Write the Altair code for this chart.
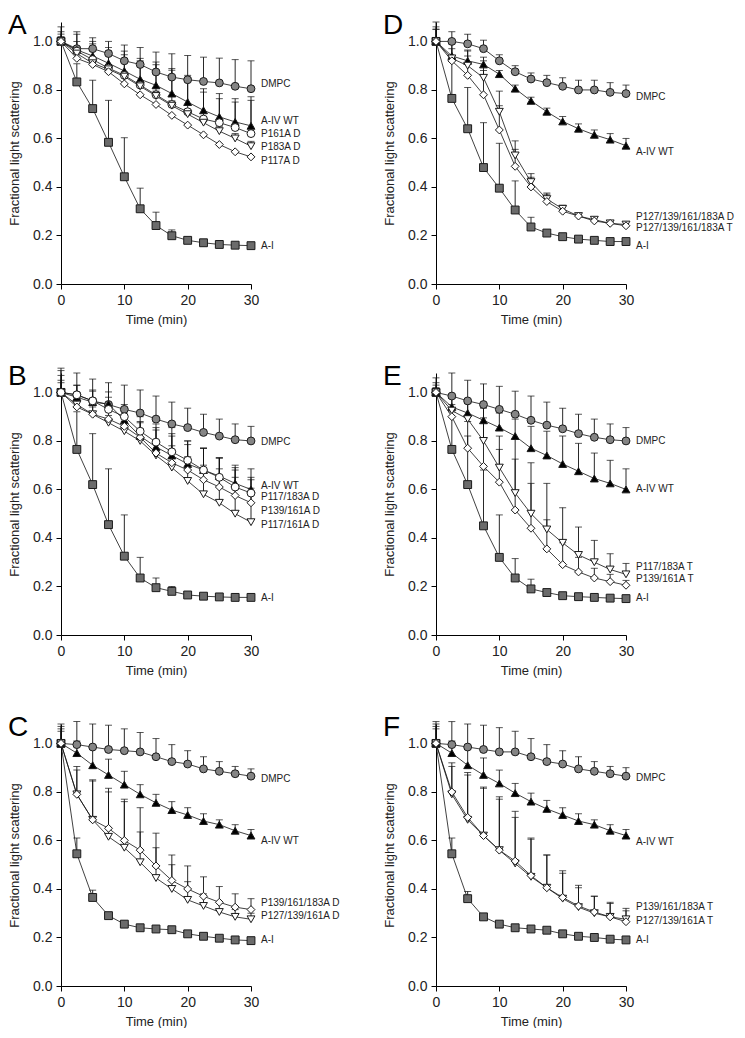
import altair as alt
import pandas as pd

TIME = [0, 2.5, 5, 7.5, 10, 12.5, 15, 17.5, 20, 22.5, 25, 27.5, 30]

# ---------------- Panel A ----------------
A_DMPC = [1.0, 0.97, 0.97, 0.95, 0.92, 0.905, 0.874, 0.853, 0.842, 0.835, 0.829, 0.815, 0.805]
A_DMPC_E = [0.06, 0.07, 0.045, 0.05, 0.065, 0.07, 0.082, 0.096, 0.1, 0.1, 0.102, 0.11, 0.115]
A_WT = [1.0, 0.965, 0.94, 0.91, 0.878, 0.844, 0.819, 0.785, 0.75, 0.716, 0.689, 0.668, 0.652]
A_WT_E = [0.04, 0.065, 0.06, 0.065, 0.082, 0.086, 0.096, 0.103, 0.11, 0.089, 0.096, 0.096, 0.12]
A_P161 = [1.0, 0.96, 0.925, 0.89, 0.86, 0.82, 0.78, 0.74, 0.71, 0.68, 0.665, 0.645, 0.62]
A_P161_E = [0.03, 0.04, 0.065, 0.07, 0.085, 0.1, 0.124, 0.141, 0.14, 0.111, 0.099, 0.105, 0.137]
A_P183 = [1.0, 0.95, 0.91, 0.885, 0.855, 0.815, 0.775, 0.735, 0.7, 0.665, 0.63, 0.6, 0.568]
A_P183_E = [0.02, 0.02, 0.02, 0.02, 0.02, 0.02, 0.02, 0.02, 0.02, 0.02, 0.02, 0.02, 0.02]
A_P117 = [1.0, 0.93, 0.905, 0.875, 0.825, 0.78, 0.74, 0.695, 0.655, 0.615, 0.575, 0.545, 0.524]
A_P117_E = [0.01, 0.01, 0.01, 0.01, 0.01, 0.01, 0.01, 0.01, 0.01, 0.01, 0.01, 0.01, 0.01]
A_AI = [1.0, 0.833, 0.723, 0.584, 0.442, 0.31, 0.241, 0.199, 0.18, 0.17, 0.163, 0.16, 0.158]
A_AI_E = [0.0, 0.075, 0.117, 0.173, 0.161, 0.085, 0.055, 0.024, 0.01, 0.008, 0.006, 0.005, 0.005]
A_LABELS = ["DMPC", "A-IV WT", "P161A D", "P183A D", "P117A D", "A-I"]
A_LABEL_Y = [0.823, 0.672, 0.62, 0.563, 0.507, 0.155]

# ---------------- Panel B ----------------
B_DMPC = [1.0, 0.99, 0.965, 0.95, 0.93, 0.915, 0.89, 0.87, 0.855, 0.835, 0.82, 0.805, 0.80]
B_DMPC_E = [0.09, 0.09, 0.09, 0.09, 0.1, 0.095, 0.095, 0.09, 0.08, 0.075, 0.07, 0.065, 0.06]
B_WT = [1.0, 0.98, 0.96, 0.952, 0.885, 0.82, 0.775, 0.74, 0.705, 0.68, 0.655, 0.625, 0.6]
B_WT_E = [0.1, 0.05, 0.05, 0.05, 0.05, 0.06, 0.07, 0.09, 0.08, 0.09, 0.075, 0.075, 0.085]
B_P117_183 = [1.0, 0.99, 0.965, 0.93, 0.9, 0.84, 0.795, 0.755, 0.72, 0.68, 0.65, 0.61, 0.585]
B_P117_183_E = [0.07, 0.04, 0.04, 0.05, 0.05, 0.06, 0.075, 0.1, 0.08, 0.09, 0.08, 0.08, 0.065]
B_P139_161 = [1.0, 0.94, 0.91, 0.89, 0.86, 0.815, 0.75, 0.71, 0.68, 0.64, 0.61, 0.575, 0.545]
B_P139_161_E = [0.05, 0.03, 0.04, 0.05, 0.05, 0.06, 0.105, 0.11, 0.12, 0.13, 0.12, 0.105, 0.095]
B_P117_161 = [1.0, 0.95, 0.91, 0.875, 0.84, 0.8, 0.74, 0.69, 0.635, 0.58, 0.545, 0.5, 0.465]
B_P117_161_E = [0.04, 0.03, 0.03, 0.03, 0.04, 0.05, 0.06, 0.09, 0.1, 0.12, 0.14, 0.15, 0.14]
B_AI = [1.0, 0.765, 0.62, 0.455, 0.325, 0.235, 0.195, 0.18, 0.165, 0.16, 0.157, 0.155, 0.155]
B_AI_E = [0.0, 0.155, 0.21, 0.23, 0.17, 0.085, 0.04, 0.02, 0.01, 0.008, 0.006, 0.005, 0.005]
B_LABELS = ["DMPC", "A-IV WT", "P117/183A D", "P139/161A D", "P117/161A D", "A-I"]
B_LABEL_Y = [0.795, 0.614, 0.569, 0.512, 0.453, 0.151]

# ---------------- Panel C ----------------
C_DMPC = [1.0, 0.995, 0.985, 0.975, 0.97, 0.965, 0.945, 0.925, 0.915, 0.895, 0.885, 0.875, 0.865]
C_DMPC_E = [0.08, 0.095, 0.095, 0.1, 0.09, 0.08, 0.075, 0.07, 0.055, 0.05, 0.04, 0.03, 0.03]
C_WT = [1.0, 0.96, 0.91, 0.87, 0.83, 0.79, 0.755, 0.725, 0.705, 0.68, 0.665, 0.64, 0.62]
C_WT_E = [0.06, 0.05, 0.08, 0.065, 0.055, 0.04, 0.035, 0.035, 0.03, 0.03, 0.02, 0.025, 0.025]
C_P139_161_183 = [1.0, 0.79, 0.685, 0.65, 0.6, 0.56, 0.495, 0.435, 0.4, 0.37, 0.345, 0.325, 0.315]
C_P139_161_183_E = [0.07, 0.115, 0.165, 0.165, 0.17, 0.175, 0.135, 0.105, 0.095, 0.08, 0.065, 0.055, 0.045]
C_P127_139_161 = [1.0, 0.79, 0.685, 0.615, 0.57, 0.51, 0.445, 0.4, 0.355, 0.33, 0.305, 0.285, 0.275]
C_P127_139_161_E = [0.05, 0.1, 0.16, 0.185, 0.19, 0.125, 0.125, 0.1, 0.075, 0.05, 0.04, 0.03, 0.025]
C_AI = [1.0, 0.545, 0.365, 0.29, 0.255, 0.24, 0.235, 0.232, 0.215, 0.205, 0.197, 0.19, 0.187]
C_AI_E = [0.0, 0.065, 0.03, 0.01, 0.01, 0.008, 0.008, 0.008, 0.006, 0.006, 0.005, 0.005, 0.005]
C_LABELS = ["DMPC", "A-IV WT", "P139/161/183A D", "P127/139/161A D", "A-I"]
C_LABEL_Y = [0.855, 0.597, 0.343, 0.288, 0.188]

# ---------------- Panel D ----------------
D_DMPC = [1.0, 1.0, 0.99, 0.97, 0.92, 0.875, 0.845, 0.83, 0.815, 0.8, 0.8, 0.79, 0.785]
D_DMPC_E = [0.05, 0.04, 0.04, 0.035, 0.025, 0.025, 0.025, 0.03, 0.035, 0.04, 0.04, 0.04, 0.035]
D_WT = [1.0, 0.94, 0.92, 0.905, 0.865, 0.805, 0.755, 0.71, 0.67, 0.64, 0.615, 0.595, 0.57]
D_WT_E = [0.06, 0.06, 0.045, 0.03, 0.015, 0.015, 0.015, 0.015, 0.02, 0.02, 0.02, 0.025, 0.03]
D_QUAD_D = [1.0, 0.93, 0.9, 0.85, 0.71, 0.53, 0.42, 0.35, 0.31, 0.28, 0.265, 0.25, 0.245]
D_QUAD_D_E = [0.08, 0.06, 0.06, 0.07, 0.085, 0.06, 0.035, 0.025, 0.015, 0.01, 0.01, 0.01, 0.01]
D_QUAD_T = [1.0, 0.92, 0.86, 0.78, 0.635, 0.485, 0.4, 0.34, 0.3, 0.28, 0.26, 0.25, 0.24]
D_QUAD_T_E = [0.05, 0.05, 0.08, 0.1, 0.1, 0.07, 0.04, 0.03, 0.02, 0.01, 0.01, 0.01, 0.01]
D_AI = [1.0, 0.765, 0.64, 0.48, 0.395, 0.305, 0.235, 0.21, 0.195, 0.185, 0.18, 0.175, 0.175]
D_AI_E = [0.0, 0.16, 0.17, 0.185, 0.185, 0.12, 0.04, 0.01, 0.008, 0.006, 0.005, 0.005, 0.005]
D_LABELS = ["DMPC", "A-IV WT", "P127/139/161/183A D", "P127/139/161/183A T", "A-I"]
D_LABEL_Y = [0.771, 0.545, 0.277, 0.229, 0.156]

# ---------------- Panel E ----------------
E_DMPC = [1.0, 0.985, 0.965, 0.95, 0.93, 0.91, 0.885, 0.865, 0.85, 0.83, 0.815, 0.805, 0.8]
E_DMPC_E = [0.06, 0.095, 0.085, 0.085, 0.095, 0.095, 0.1, 0.095, 0.085, 0.08, 0.075, 0.065, 0.055]
E_WT = [1.0, 0.94, 0.915, 0.885, 0.855, 0.82, 0.77, 0.74, 0.705, 0.675, 0.645, 0.625, 0.6]
E_WT_E = [0.04, 0.04, 0.04, 0.05, 0.06, 0.07, 0.09, 0.1, 0.115, 0.115, 0.105, 0.095, 0.085]
E_P117_183 = [1.0, 0.925, 0.89, 0.8, 0.69, 0.585, 0.5, 0.435, 0.38, 0.33, 0.3, 0.27, 0.25]
E_P117_183_E = [0.03, 0.05, 0.065, 0.14, 0.13, 0.225, 0.21, 0.19, 0.145, 0.115, 0.09, 0.065, 0.045]
E_P139_161 = [1.0, 0.9, 0.77, 0.695, 0.63, 0.515, 0.44, 0.355, 0.29, 0.26, 0.235, 0.22, 0.205]
E_P139_161_E = [0.02, 0.05, 0.11, 0.2, 0.135, 0.21, 0.185, 0.12, 0.09, 0.06, 0.04, 0.03, 0.02]
E_AI = [1.0, 0.765, 0.62, 0.45, 0.32, 0.235, 0.19, 0.175, 0.162, 0.158, 0.155, 0.152, 0.15]
E_AI_E = [0.0, 0.155, 0.2, 0.23, 0.175, 0.08, 0.04, 0.01, 0.008, 0.006, 0.005, 0.005, 0.005]
E_LABELS = ["DMPC", "A-IV WT", "P117/183A T", "P139/161A T", "A-I"]
E_LABEL_Y = [0.8, 0.6, 0.281, 0.229, 0.151]

# ---------------- Panel F ----------------
F_DMPC = [1.0, 0.995, 0.985, 0.975, 0.965, 0.965, 0.945, 0.925, 0.915, 0.895, 0.885, 0.875, 0.865]
F_DMPC_E = [0.08, 0.095, 0.095, 0.1, 0.1, 0.085, 0.075, 0.07, 0.055, 0.05, 0.04, 0.03, 0.035]
F_WT = [1.0, 0.96, 0.91, 0.87, 0.835, 0.795, 0.76, 0.73, 0.705, 0.68, 0.665, 0.64, 0.62]
F_WT_E = [0.07, 0.05, 0.08, 0.07, 0.055, 0.04, 0.035, 0.035, 0.03, 0.03, 0.02, 0.025, 0.025]
F_P139_161_183 = [1.0, 0.79, 0.685, 0.62, 0.56, 0.505, 0.45, 0.405, 0.36, 0.325, 0.3, 0.285, 0.275]
F_P139_161_183_E = [0.09, 0.115, 0.185, 0.195, 0.21, 0.19, 0.155, 0.135, 0.105, 0.08, 0.07, 0.055, 0.035]
F_P127_139_161 = [1.0, 0.8, 0.695, 0.62, 0.56, 0.515, 0.455, 0.405, 0.365, 0.33, 0.305, 0.285, 0.265]
F_P127_139_161_E = [0.06, 0.12, 0.185, 0.2, 0.22, 0.205, 0.155, 0.135, 0.11, 0.085, 0.065, 0.06, 0.055]
F_AI = [1.0, 0.545, 0.36, 0.285, 0.255, 0.24, 0.235, 0.23, 0.215, 0.205, 0.2, 0.193, 0.19]
F_AI_E = [0.0, 0.065, 0.03, 0.01, 0.01, 0.008, 0.008, 0.008, 0.006, 0.006, 0.005, 0.005, 0.005]
F_LABELS = ["DMPC", "A-IV WT", "P139/161/183A T", "P127/139/161A T", "A-I"]
F_LABEL_Y = [0.857, 0.593, 0.325, 0.27, 0.19]

# marker styles
STYLE_DOMAIN = ["dmpc", "wt", "ai", "ocirc", "otri", "odia"]
STYLE_SHAPES = ["circle", "triangle-up", "square", "circle", "triangle-down", "diamond"]
STYLE_FILLS = ["#858585", "#000000", "#6b6b6b", "#ffffff", "#ffffff", "#ffffff"]

PANELS = [
    ("A", [("A-I", "ai", A_AI, A_AI_E), ("DMPC", "dmpc", A_DMPC, A_DMPC_E), ("A-IV WT", "wt", A_WT, A_WT_E),
           ("P161A D", "ocirc", A_P161, A_P161_E), ("P183A D", "otri", A_P183, A_P183_E),
           ("P117A D", "odia", A_P117, A_P117_E)], A_LABELS, A_LABEL_Y),
    ("D", [("A-I", "ai", D_AI, D_AI_E), ("DMPC", "dmpc", D_DMPC, D_DMPC_E), ("A-IV WT", "wt", D_WT, D_WT_E),
           ("P127/139/161/183A D", "otri", D_QUAD_D, D_QUAD_D_E),
           ("P127/139/161/183A T", "odia", D_QUAD_T, D_QUAD_T_E)], D_LABELS, D_LABEL_Y),
    ("B", [("A-I", "ai", B_AI, B_AI_E), ("DMPC", "dmpc", B_DMPC, B_DMPC_E), ("A-IV WT", "wt", B_WT, B_WT_E),
           ("P117/161A D", "otri", B_P117_161, B_P117_161_E), ("P139/161A D", "odia", B_P139_161, B_P139_161_E),
           ("P117/183A D", "ocirc", B_P117_183, B_P117_183_E)], B_LABELS, B_LABEL_Y),
    ("E", [("A-I", "ai", E_AI, E_AI_E), ("DMPC", "dmpc", E_DMPC, E_DMPC_E), ("A-IV WT", "wt", E_WT, E_WT_E),
           ("P117/183A T", "otri", E_P117_183, E_P117_183_E),
           ("P139/161A T", "odia", E_P139_161, E_P139_161_E)], E_LABELS, E_LABEL_Y),
    ("C", [("A-I", "ai", C_AI, C_AI_E), ("DMPC", "dmpc", C_DMPC, C_DMPC_E), ("A-IV WT", "wt", C_WT, C_WT_E),
           ("P127/139/161A D", "otri", C_P127_139_161, C_P127_139_161_E),
           ("P139/161/183A D", "odia", C_P139_161_183, C_P139_161_183_E)], C_LABELS, C_LABEL_Y),
    ("F", [("A-I", "ai", F_AI, F_AI_E), ("DMPC", "dmpc", F_DMPC, F_DMPC_E), ("A-IV WT", "wt", F_WT, F_WT_E),
           ("P139/161/183A T", "otri", F_P139_161_183, F_P139_161_183_E),
           ("P127/139/161A T", "odia", F_P127_139_161, F_P127_139_161_E)], F_LABELS, F_LABEL_Y),
]

FONT = "Liberation Sans"
W, H = 190, 262
YMAX = 1.08


def make_panel(letter, series, labels, label_y):
    rows = []
    for order, (name, style, vals, errs) in enumerate(series):
        for t, v, e in zip(TIME, vals, errs):
            rows.append({"t": t, "y": v, "hi": v + e, "err": e, "series": name,
                         "style": style, "ord": order})
    df = pd.DataFrame(rows)
    lab = pd.DataFrame({"label": labels, "y": label_y, "t": [30] * len(labels)})
    let = pd.DataFrame({"letter": [letter]})

    x = alt.X("t:Q", scale=alt.Scale(domain=[0, 30], nice=False),
              axis=alt.Axis(title="Time (min)", values=[0, 5, 10, 15, 20, 25, 30], format="d",
                            titleFontWeight="normal"))
    y = alt.Y("y:Q", scale=alt.Scale(domain=[0, YMAX], nice=False),
              axis=alt.Axis(title="Fractional light scattering",
                            values=[0, 0.2, 0.4, 0.6, 0.8, 1.0], format=".1f",
                            titleFontWeight="normal"))

    base = alt.Chart(df)
    lines = base.mark_line(color="#111111", strokeWidth=0.8).encode(
        x=x, y=y, detail="series:N", order="t:Q")
    err_df = base.transform_filter("datum.err > 0.012")
    rules = err_df.mark_rule(color="#111111", strokeWidth=0.9).encode(
        x="t:Q", y="y:Q", y2="hi:Q")
    caps = err_df.mark_tick(orient="horizontal", size=7, thickness=1, color="#111111").encode(
        x="t:Q", y="hi:Q")
    pts = base.mark_point(filled=True, size=62, stroke="#1a1a1a", strokeWidth=1, opacity=1).encode(
        x="t:Q", y="y:Q",
        shape=alt.Shape("style:N", scale=alt.Scale(domain=STYLE_DOMAIN, range=STYLE_SHAPES), legend=None),
        fill=alt.Fill("style:N", scale=alt.Scale(domain=STYLE_DOMAIN, range=STYLE_FILLS), legend=None),
        order="ord:Q")
    texts = alt.Chart(lab).mark_text(align="left", baseline="middle", dx=10, fontSize=10,
                                     font=FONT, color="#222222").encode(
        x="t:Q", y="y:Q", text="label:N")
    letter_mark = alt.Chart(let).mark_text(align="left", baseline="alphabetic", fontSize=28,
                                           font=FONT, color="#000000").encode(
        x=alt.value(-53), y=alt.value(12), text="letter:N")
    return alt.layer(lines, rules, caps, pts, texts, letter_mark).properties(width=W, height=H)


charts = [make_panel(*p) for p in PANELS]

chart = alt.concat(*charts, columns=2, spacing={"row": 89, "column": 185},
                   bounds="flush",
                   padding={"top": 4, "left": 0, "right": 0, "bottom": 0}).configure_view(
    stroke=None).configure_axis(
    grid=False, domainColor="#000000", tickColor="#000000", domainWidth=1, tickWidth=1,
    tickSize=5, labelFont=FONT, labelFontSize=14, labelColor="#222222", labelPadding=4,
    titleFont=FONT, titleFontSize=13, titleFontWeight="normal", titleColor="#222222",
).configure_axisX(labelFlush=False, titlePadding=6).configure_axisY(titlePadding=11)

chart.save("out.html", embed_options={"renderer": "svg", "actions": False})
